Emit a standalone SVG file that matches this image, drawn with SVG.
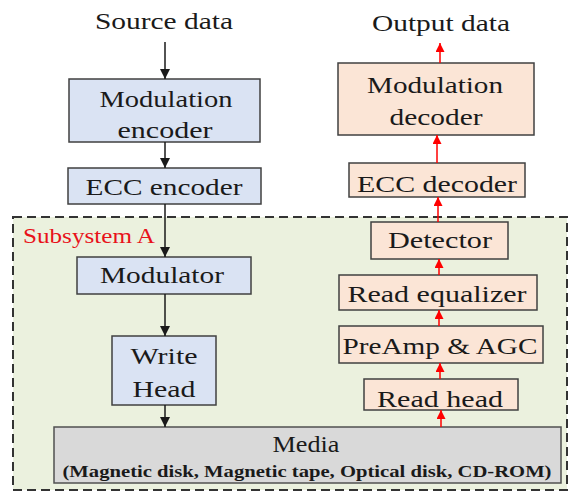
<svg xmlns="http://www.w3.org/2000/svg" width="572" height="492" viewBox="0 0 572 492">
<style>
.t{font-size:24px;fill:#1a1a1a;text-anchor:middle}
.sub{font-size:21px;fill:#e8121a}
.blue{fill:#dae3f3;stroke:#404040;stroke-width:1.5}
.org{fill:#fbe5d6;stroke:#404040;stroke-width:1.5}
.gray{fill:#d9d9d9;stroke:#505050;stroke-width:1.5}
.ak{stroke:#1a1a1a;stroke-width:1.5;fill:none;marker-end:url(#mk)}
.ar{stroke:#ff0000;stroke-width:1.5;fill:none;marker-end:url(#mr)}
</style>
<defs>
<marker id="mk" viewBox="0 0 10 10" refX="10" refY="5" markerWidth="11" markerHeight="10" markerUnits="userSpaceOnUse" orient="auto"><path d="M0,0 L10,5 L0,10 z" fill="#1a1a1a"/></marker>
<marker id="mr" viewBox="0 0 10 10" refX="10" refY="5" markerWidth="10" markerHeight="9" markerUnits="userSpaceOnUse" orient="auto"><path d="M0,0 L10,5 L0,10 z" fill="#ff0000"/></marker>
</defs>
<rect width="572" height="492" fill="#ffffff"/>
<g font-family="Liberation Serif, DejaVu Serif, serif">
<g id="subsystemA">
<rect x="13" y="217" width="554" height="273" fill="#ebf1de" stroke="#333" stroke-width="2" stroke-dasharray="9,5"/>
<text class="sub" x="23" y="243" textLength="132" lengthAdjust="spacingAndGlyphs">Subsystem A</text>
</g>
<g id="source"><text class="t" x="164" y="29" textLength="138" lengthAdjust="spacingAndGlyphs">Source data</text></g>
<g id="modenc"><rect class="blue" x="69" y="79" width="191" height="63"/>
<text class="t" x="166" y="107" textLength="133" lengthAdjust="spacingAndGlyphs">Modulation</text>
<text class="t" x="165" y="138" textLength="95" lengthAdjust="spacingAndGlyphs">encoder</text></g>
<g id="eccenc"><rect class="blue" x="68" y="168" width="193" height="36"/>
<text class="t" x="164" y="195" textLength="157" lengthAdjust="spacingAndGlyphs">ECC encoder</text></g>
<g id="modulator"><rect class="blue" x="77" y="257" width="174" height="37"/>
<text class="t" x="162" y="283" textLength="124" lengthAdjust="spacingAndGlyphs">Modulator</text></g>
<g id="writehead"><rect class="blue" x="112" y="336" width="104" height="69"/>
<text class="t" x="164" y="364" textLength="67" lengthAdjust="spacingAndGlyphs">Write</text>
<text class="t" x="164" y="397" textLength="63" lengthAdjust="spacingAndGlyphs">Head</text></g>
<g id="media"><rect class="gray" x="54" y="427" width="507" height="56"/>
<text class="t" x="306" y="452" textLength="67" lengthAdjust="spacingAndGlyphs">Media</text>
<text class="t" x="307" y="477" font-size="17" font-weight="bold" style="font-size:17px" textLength="489" lengthAdjust="spacingAndGlyphs">(Magnetic disk, Magnetic tape, Optical disk, CD-ROM)</text></g>
<g id="readhead"><rect class="org" x="364" y="379" width="154" height="31"/>
<text class="t" x="440" y="407" textLength="126" lengthAdjust="spacingAndGlyphs">Read head</text></g>
<g id="preamp"><rect class="org" x="339" y="326" width="204" height="37"/>
<text class="t" x="440" y="354" textLength="195" lengthAdjust="spacingAndGlyphs">PreAmp &amp; AGC</text></g>
<g id="readeq"><rect class="org" x="339" y="275" width="198" height="35"/>
<text class="t" x="437" y="302" textLength="179" lengthAdjust="spacingAndGlyphs">Read equalizer</text></g>
<g id="detector"><rect class="org" x="371" y="222" width="137" height="37"/>
<text class="t" x="440" y="248" textLength="104" lengthAdjust="spacingAndGlyphs">Detector</text></g>
<g id="eccdec"><rect class="org" x="349" y="163" width="176" height="34"/>
<text class="t" x="437" y="192" textLength="160" lengthAdjust="spacingAndGlyphs">ECC decoder</text></g>
<g id="moddec"><rect class="org" x="338" y="63" width="196" height="72"/>
<text class="t" x="435" y="93" textLength="136" lengthAdjust="spacingAndGlyphs">Modulation</text>
<text class="t" x="436" y="125" textLength="93" lengthAdjust="spacingAndGlyphs">decoder</text></g>
<g id="output"><text class="t" x="441" y="31" textLength="138" lengthAdjust="spacingAndGlyphs">Output data</text></g>
</g>
<g id="connectors">
<line class="ak" x1="165" y1="42" x2="165" y2="79"/>
<line class="ak" x1="165" y1="142" x2="165" y2="168"/>
<line class="ak" x1="165" y1="204" x2="165" y2="257"/>
<line class="ak" x1="165" y1="294" x2="165" y2="336"/>
<line class="ak" x1="165" y1="405" x2="165" y2="427"/>
<line class="ar" x1="441" y1="427" x2="441" y2="410"/>
<line class="ar" x1="440" y1="379" x2="440" y2="363"/>
<line class="ar" x1="439" y1="326" x2="439" y2="310"/>
<line class="ar" x1="439" y1="275" x2="439" y2="259"/>
<line class="ar" x1="438" y1="222" x2="438" y2="197"/>
<line class="ar" x1="437" y1="163" x2="437" y2="135"/>
<line class="ar" x1="440" y1="63" x2="440" y2="43"/>
</g>
</svg>
